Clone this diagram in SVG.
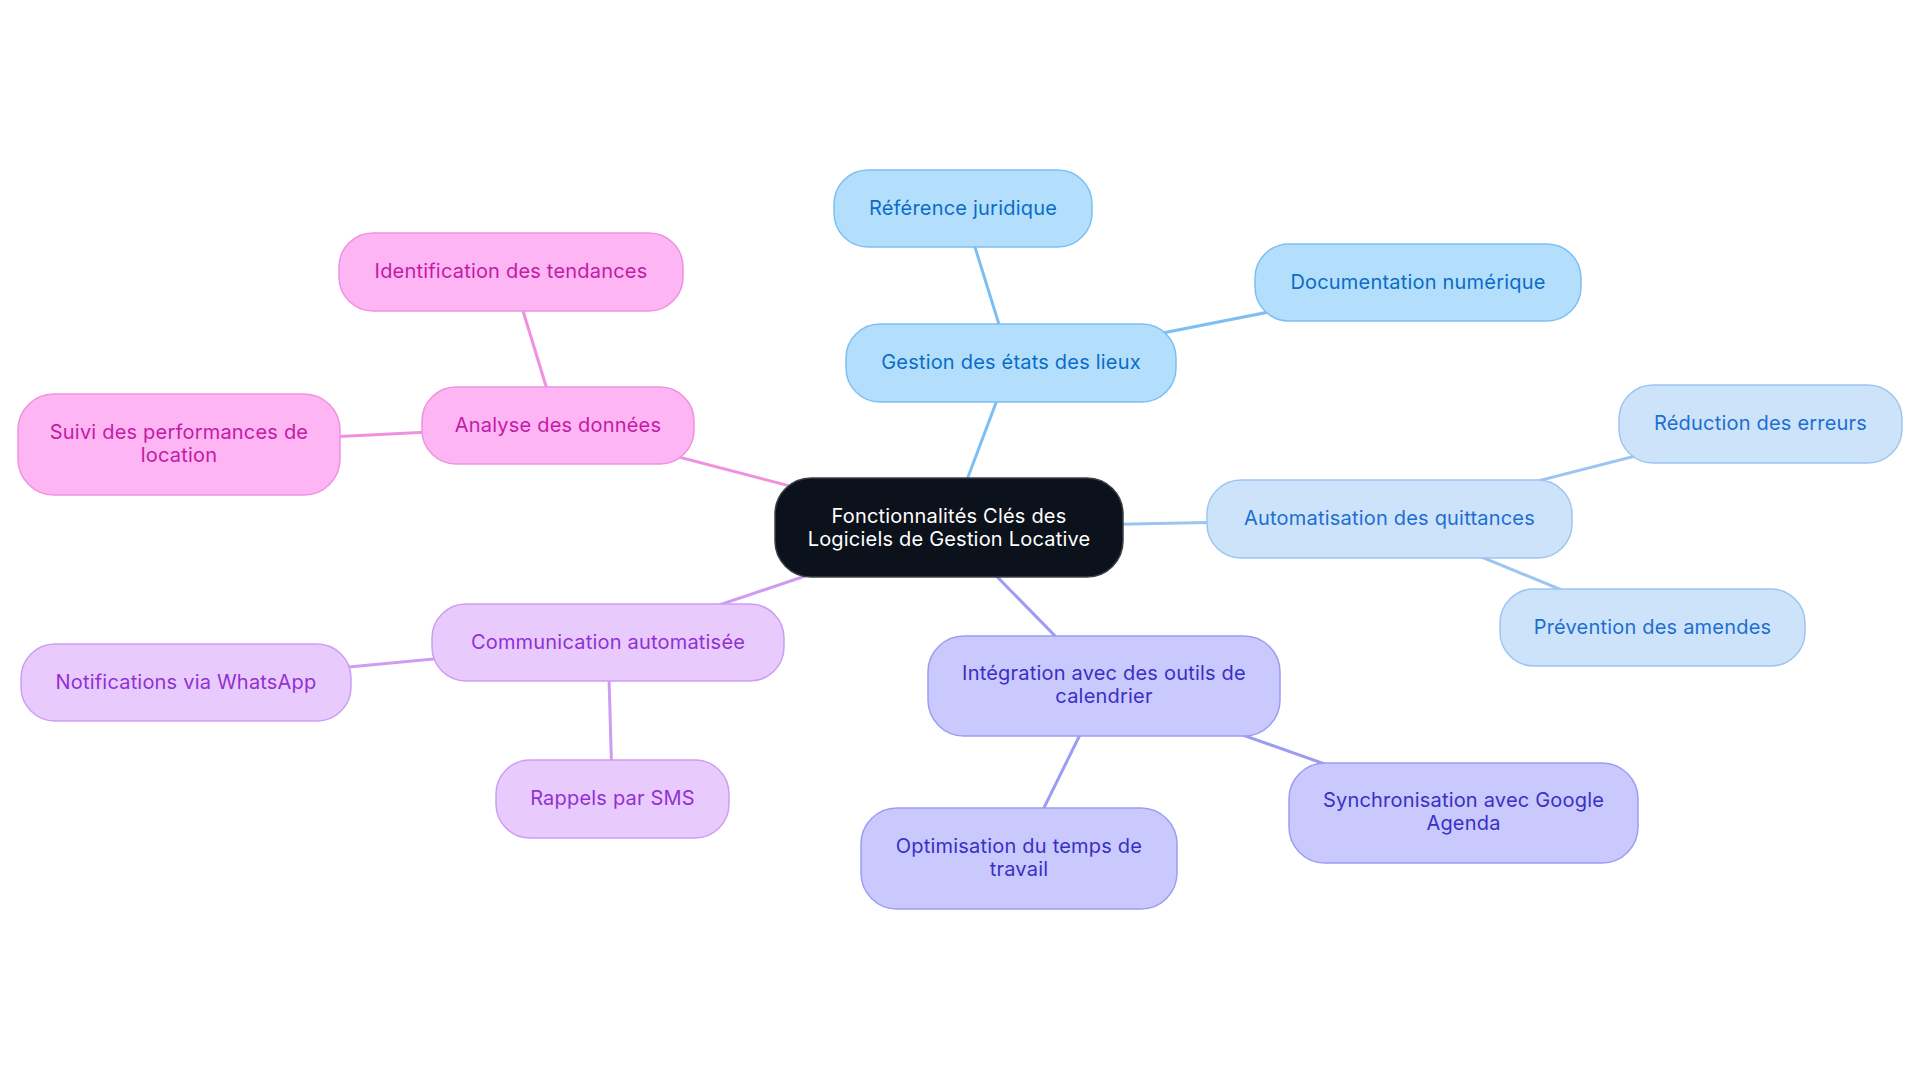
<svg xmlns="http://www.w3.org/2000/svg" width="1920" height="1083" viewBox="0 0 1920 1083">
<style>
text{font-family:Inter,"Open Sans","Liberation Sans",sans-serif;font-size:20px;text-anchor:middle;letter-spacing:0.2px}
.e{stroke-width:3;fill:none}
.n rect{stroke-width:1.5}
.c rect{fill:#0c121b;stroke:#3b4046}
.c text{fill:#ffffff}
.b rect{fill:#b3dffd;stroke:#7dbff2}
.b text{fill:#0b6cc6}
.eb{stroke:#7dbff2}
.l rect{fill:#cde3fa;stroke:#9dc5f1}
.l text{fill:#1d6ed2}
.el{stroke:#9dc5f1}
.i rect{fill:#c9c9fd;stroke:#9d9cf2}
.i text{fill:#3a2fc6}
.ei{stroke:#9d9cf2}
.v rect{fill:#e8cbfc;stroke:#cd9df2}
.v text{fill:#9130d6}
.ev{stroke:#cd9df2}
.p rect{fill:#fdb5f3;stroke:#f091e0}
.p text{fill:#c41aa6}
.ep{stroke:#f091e0}
</style>
<rect width="1920" height="1083" fill="#ffffff"/>
<g id="connectors">
<line class="e eb" x1="949" y1="527.5" x2="1011" y2="363"/>
<line class="e eb" x1="1011" y1="363" x2="963" y2="208.5"/>
<line class="e eb" x1="1011" y1="363" x2="1418" y2="282.5"/>
<line class="e el" x1="949" y1="527.5" x2="1389.5" y2="519"/>
<line class="e el" x1="1389.5" y1="519" x2="1760.5" y2="424"/>
<line class="e el" x1="1389.5" y1="519" x2="1652.5" y2="627.5"/>
<line class="e ei" x1="949" y1="527.5" x2="1104" y2="686"/>
<line class="e ei" x1="1104" y1="686" x2="1019" y2="858.5"/>
<line class="e ei" x1="1104" y1="686" x2="1463.5" y2="813"/>
<line class="e ev" x1="949" y1="527.5" x2="608" y2="642.5"/>
<line class="e ev" x1="608" y1="642.5" x2="186" y2="682.5"/>
<line class="e ev" x1="608" y1="642.5" x2="612.5" y2="799"/>
<line class="e ep" x1="949" y1="527.5" x2="558" y2="425.5"/>
<line class="e ep" x1="558" y1="425.5" x2="511" y2="271.5"/>
<line class="e ep" x1="558" y1="425.5" x2="179" y2="444.5"/>
</g>
<g id="center" class="n c"><rect x="775" y="478" width="348" height="99" rx="36"/><text x="949" y="522.5">Fonctionnalités Clés des</text><text x="949" y="545.5">Logiciels de Gestion Locative</text></g>
<g id="gestion" class="n b"><rect x="846" y="324" width="330" height="78" rx="34"/><text x="1011" y="369">Gestion des états des lieux</text></g>
<g id="reference" class="n b"><rect x="834" y="170" width="258" height="77" rx="34"/><text x="963" y="214.5">Référence juridique</text></g>
<g id="documentation" class="n b"><rect x="1255" y="244" width="326" height="77" rx="34"/><text x="1418" y="288.5">Documentation numérique</text></g>
<g id="automatisation" class="n l"><rect x="1207" y="480" width="365" height="78" rx="34"/><text x="1389.5" y="525">Automatisation des quittances</text></g>
<g id="reduction" class="n l"><rect x="1619" y="385" width="283" height="78" rx="34"/><text x="1760.5" y="430">Réduction des erreurs</text></g>
<g id="prevention" class="n l"><rect x="1500" y="589" width="305" height="77" rx="34"/><text x="1652.5" y="633.5">Prévention des amendes</text></g>
<g id="integration" class="n i"><rect x="928" y="636" width="352" height="100" rx="36"/><text x="1104" y="680">Intégration avec des outils de</text><text x="1104" y="703">calendrier</text></g>
<g id="optimisation" class="n i"><rect x="861" y="808" width="316" height="101" rx="36"/><text x="1019" y="852.5">Optimisation du temps de</text><text x="1019" y="875.5">travail</text></g>
<g id="synchronisation" class="n i"><rect x="1289" y="763" width="349" height="100" rx="36"/><text x="1463.5" y="807">Synchronisation avec Google</text><text x="1463.5" y="830">Agenda</text></g>
<g id="communication" class="n v"><rect x="432" y="604" width="352" height="77" rx="34"/><text x="608" y="648.5">Communication automatisée</text></g>
<g id="notifications" class="n v"><rect x="21" y="644" width="330" height="77" rx="34"/><text x="186" y="688.5">Notifications via WhatsApp</text></g>
<g id="rappels" class="n v"><rect x="496" y="760" width="233" height="78" rx="34"/><text x="612.5" y="805">Rappels par SMS</text></g>
<g id="analyse" class="n p"><rect x="422" y="387" width="272" height="77" rx="34"/><text x="558" y="431.5">Analyse des données</text></g>
<g id="identification" class="n p"><rect x="339" y="233" width="344" height="78" rx="34"/><text x="511" y="277.5">Identification des tendances</text></g>
<g id="suivi" class="n p"><rect x="18" y="394" width="322" height="101" rx="36"/><text x="179" y="438.5">Suivi des performances de</text><text x="179" y="461.5">location</text></g>
</svg>
